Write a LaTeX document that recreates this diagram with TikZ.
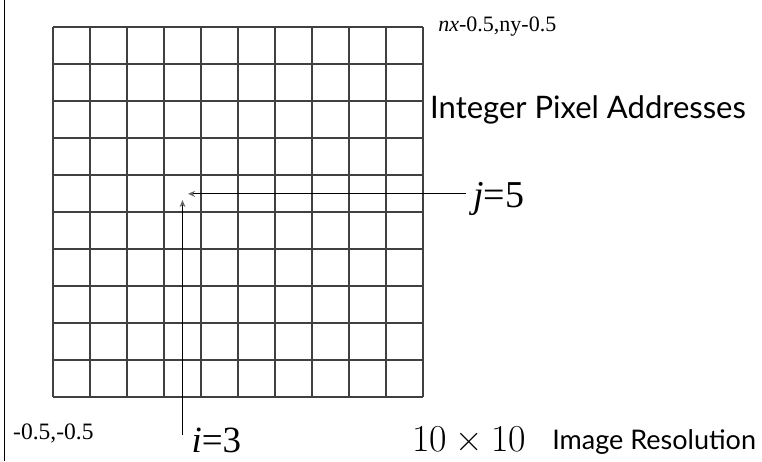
\documentclass[tikz,border=0pt]{standalone}
\usepackage{fontspec}
\setmainfont{Liberation Serif}
\setsansfont{Lato}
\newfontfamily\cmfont{Latin Modern Roman}
\usetikzlibrary{arrows.meta,positioning}

\begin{document}
\begin{tikzpicture}[x=37pt,y=37pt,
    gridline/.style={black!75, line width=1.2pt},
    pointer/.style={black, line width=0.8pt, -{Stealth[length=7pt,width=6pt,color=black!60]}},
    corner/.style={anchor=base west, inner sep=0pt},
    index/.style={anchor=base west, inner sep=0pt},
    caption/.style={anchor=base west, inner sep=0pt}]
    \useasboundingbox (-1.4324,-1.7297) rectangle (19.1622,10.7297);

    % left edge of the page
    \draw[line width=1.6pt] (-1.311,-1.7297) -- (-1.311,10.7297);

    % 10 x 10 pixel grid
    \draw[gridline] (0,0) grid[step=1] (10,10);

    % corner coordinates
    \node[corner, font=\fontsize{23.5}{26}\selectfont] (lowleft) at (-1.08,-1.16) {-0.5,-0.5};
    \node[corner, font=\fontsize{22}{24}\selectfont] (upright) at (10.41,9.89) {\textit{nx}-0.5,ny-0.5};

    \node[caption, font=\sffamily\fontsize{31}{34}\selectfont] (addr) at (10.19,7.54) {Integer Pixel Addresses};

    % pixel (3,5)
    \coordinate (jhead) at (3.65,5.49);
    \coordinate (ihead) at (3.5,5.32);
    \coordinate (itail) at (3.5,-1.03);
    \node[index, font=\fontsize{38}{42}\selectfont] (jlab) at (11.35,5.135) {\textit{j}=5};
    \node[index, font=\fontsize{37}{40}\selectfont] (ilab) at (3.74,-1.5) {\textit{i}=3};
    \draw[pointer] ([xshift=-7pt]jlab.west |- jhead) -- (jhead);
    \draw[pointer] (itail) -- (ihead);

    % resolution
    \node[caption, font=\cmfont\fontsize{38}{42}\selectfont] (res) at (9.70,-1.486) {10\hspace{0.22em}×\hspace{0.22em}10};
    \node[caption, font=\sffamily\fontsize{27}{30}\selectfont] (reslab) at (13.49,-1.43) {Image Resolution};
\end{tikzpicture}
\end{document}
